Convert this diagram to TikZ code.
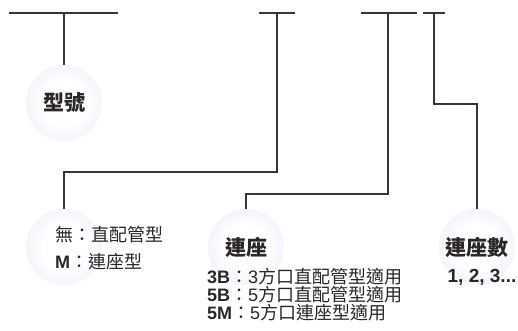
\documentclass[tikz,border=0pt]{standalone}
\usepackage{fontspec}
\setmainfont{Liberation Sans}
\newfontfamily\cjk{Noto Sans CJK TC}
\usepackage{tikz}
\usepackage{color}
\definecolor{linegray}{HTML}{3B3536}
\definecolor{textgray}{HTML}{2B2627}
\definecolor{ballrim}{HTML}{DADFF2}
\pgfdeclareradialshading{ballshade}{\pgfpoint{0bp}{0bp}}{color(0bp)=(white); color(14bp)=(white); color(50bp)=(ballrim)}
\newcommand{\keyb}[1]{{\rmfamily\bfseries #1}}
\newcommand{\digit}[1]{{\rmfamily #1}}

\begin{document}
\begin{tikzpicture}[x=1pt,y=-1pt,
		bar/.style={linegray, line width=1.3pt},
		lead/.style={linegray, line width=1.3pt},
		ball/.style={circle, minimum size=76pt, inner sep=0pt, shading=ballshade},
		title/.style={font=\fontsize{21}{21}\selectfont\cjk\bfseries, text=textgray},
		item/.style={font=\fontsize{18}{18}\selectfont\cjk, text=textgray, anchor=west, inner sep=0pt}]
			\useasboundingbox (0,0) rectangle (518,331);
			% top bars
			\coordinate (b1l) at (9,13);
			\coordinate (b1r) at (118,13);
			\coordinate (b1m) at (64,13);
			\coordinate (b2l) at (259,13);
			\coordinate (b2r) at (295,13);
			\coordinate (b2m) at (277,13);
			\coordinate (b3l) at (361,13);
			\coordinate (b3r) at (417,13);
			\coordinate (b3m) at (388,13);
			\coordinate (b4l) at (423,13);
			\coordinate (b4r) at (445,13);
			\coordinate (b4m) at (434,13);
			\draw [bar] (b1l) -- (b1r);
			\draw [bar] (b2l) -- (b2r);
			\draw [bar] (b3l) -- (b3r);
			\draw [bar] (b4l) -- (b4r);

			% circles
			\node [ball, title] (model) at (64,103) {型號};
			\node [ball] (kind) at (64,247) {};
			\node [ball, title] (seat) at (246,247) {連座};
			\node [ball, title] (count) at (477,247) {連座數};

			\draw [lead] (b1m) -- (model);
			\draw [lead] (b2m) -- ++(0,159) -| (kind.north);
			\draw [lead] (b3m) -- ++(0,181) -| (seat.north);
			\draw [lead] (b4m) -- ++(0,91) -| (count.north);

			% texts
			\node [item] (kind1) at (55,235) {無：直配管型};
			\node [item] (kind2) at (55,262) {\keyb{M}：連座型};
			\node [item] (seat1) at (207,277) {\keyb{3B}：\digit{3}方口直配管型適用};
			\node [item] (seat2) at (207,295) {\keyb{5B}：\digit{5}方口直配管型適用};
			\node [item] (seat3) at (207,313) {\keyb{5M}：\digit{5}方口連座型適用};
			\node [item, anchor=center, font=\fontsize{19}{19}\selectfont] (count1) at (482,277) {\keyb{1, 2, 3...}};
\end{tikzpicture}
\end{document}
